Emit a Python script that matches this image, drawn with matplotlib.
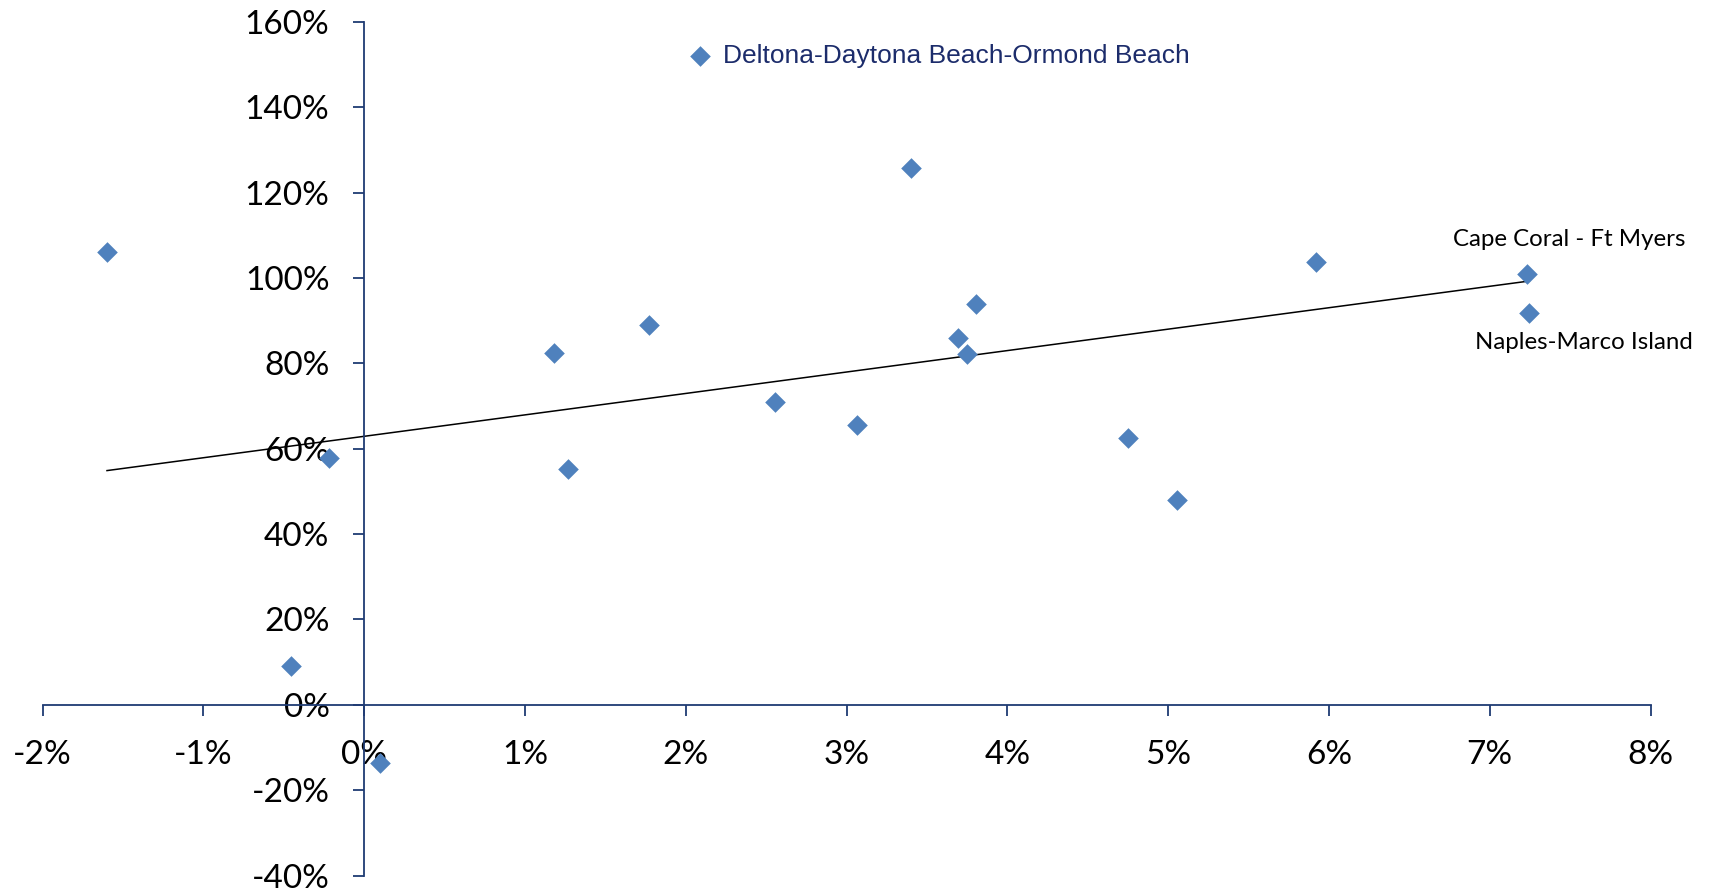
import numpy as np
import matplotlib
matplotlib.use("Agg")
import matplotlib.pyplot as plt
from matplotlib.ticker import FuncFormatter

# Data (x: % change, y: % change)
x_vals = [-1.60, -0.22, -0.455, 0.10, 1.18, 1.27, 1.77, 2.09, 2.555, 3.065,
          3.40, 3.69, 3.75, 3.805, 4.75, 5.055, 5.92, 7.233, 7.246]
y_vals = [106.0, 57.9, 9.2, -13.6, 82.5, 55.3, 88.9, 152.1, 70.9, 65.6,
          125.7, 86.0, 82.2, 94.0, 62.5, 48.1, 103.7, 100.9, 91.7]

labels = {7: "Deltona-Daytona Beach-Ormond Beach",
          17: "Cape Coral - Ft Myers",
          18: "Naples-Marco Island"}

x_ticks = [-2, -1, 0, 1, 2, 3, 4, 5, 6, 7, 8]
y_ticks = [-40, -20, 0, 20, 40, 60, 80, 100, 120, 140, 160]

navy = "#1F3B73"
marker_color = "#4F81BD"
tick_font = "Lato"

fig = plt.figure(figsize=(17.14, 8.91), dpi=100)
ax = fig.add_axes([0.0249, 0.0173, 0.963 - 0.0249, 0.9754 - 0.0173])

ax.set_xlim(x_ticks[0], x_ticks[-1])
ax.set_ylim(y_ticks[0], y_ticks[-1])

xs = np.array(x_vals)
ys = np.array(y_vals)
ax.scatter(xs, ys, marker="D", s=10.5**2, color=marker_color, zorder=3, linewidths=0)

# linear trendline
m, b = np.polyfit(xs, ys, 1)
xl = np.array([xs.min(), xs.max()])
ax.plot(xl, m * xl + b, color="black", lw=1.1, zorder=2)

# spines crossing at zero
for s in ["top", "right"]:
    ax.spines[s].set_visible(False)
ax.spines["left"].set_position(("data", 0))
ax.spines["bottom"].set_position(("data", 0))
for s in ["left", "bottom"]:
    ax.spines[s].set_color(navy)
    ax.spines[s].set_linewidth(1.3)

ax.set_xticks(x_ticks)
ax.set_yticks(y_ticks)
ax.xaxis.set_major_formatter(FuncFormatter(lambda v, p: f"{v:.0f}%"))
ax.yaxis.set_major_formatter(FuncFormatter(lambda v, p: f"{v:.0f}%"))
ax.tick_params(axis="both", direction="out", length=8, width=1.3, color=navy,
               labelsize=24, labelcolor="black")
ax.tick_params(axis="x", pad=17)
ax.tick_params(axis="y", pad=17)
for lab in ax.get_xticklabels() + ax.get_yticklabels():
    lab.set_family(tick_font)

# annotations
ax.annotate(labels[7], (xs[7], ys[7]), xytext=(16, -0.5), textcoords="offset points",
            ha="left", va="center", fontsize=19, family="Liberation Sans",
            color="#1C2C6B")
ax.annotate(labels[17], (xs[17], ys[17]), xytext=(30, 25), textcoords="offset points",
            ha="center", va="center", fontsize=17.3, family=tick_font, color="black")
ax.annotate(labels[18], (xs[18], ys[18]), xytext=(39, -21), textcoords="offset points",
            ha="center", va="center", fontsize=17.3, family=tick_font, color="black")

fig.savefig("out.png", dpi=100)
